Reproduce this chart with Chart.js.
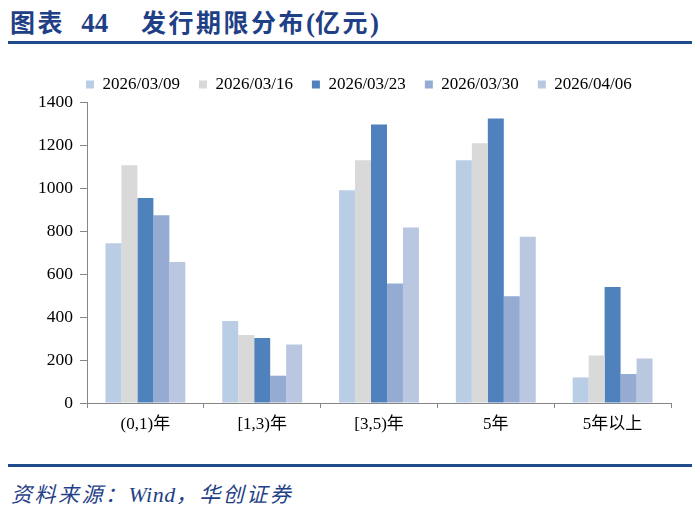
<!DOCTYPE html>
<html>
<head>
<meta charset="utf-8">
<script src="https://cdn.jsdelivr.net/npm/chart.js@4/dist/chart.umd.min.js"></script>
<style>
  html, body { margin: 0; padding: 0; background: #fff; }
  body { width: 700px; height: 508px; position: relative; overflow: hidden; }
  #title { position: absolute; left: 10px; top: 4px; font-family: "Noto Sans CJK SC", sans-serif; font-weight: 700; font-size: 25px; line-height: 34px; color: #1f3f86; letter-spacing: 2.5px; white-space: nowrap; }
  #title .num { font-family: "Liberation Serif", serif; font-weight: 700; font-size: 27px; letter-spacing: 0; }
  #rule1 { position: absolute; left: 8px; top: 41px; width: 684px; height: 3px; background: #1f4a8c; }
  #rule2 { position: absolute; left: 8px; top: 464px; width: 684px; height: 3px; background: #1f4a8c; }
  #source { position: absolute; left: 11px; top: 480px; font-family: "Noto Sans CJK SC", sans-serif; font-style: italic; font-size: 21px; line-height: 26px; color: #1f3f86; letter-spacing: 2.5px; white-space: nowrap; }
  #source .w { font-family: "Liberation Serif", serif; font-style: italic; font-size: 22px; letter-spacing: 0.5px; }
  #wrap { position: absolute; left: 0; top: 55px; width: 700px; height: 390px; }
</style>
</head>
<body>
<div id="title">图表&nbsp;&nbsp;<span class="num">44</span>&nbsp;&nbsp;&nbsp;&nbsp;发行期限分布<span class="num">(</span>亿元<span class="num">)</span></div>
<div id="rule1"></div>
<div id="wrap"><canvas id="c"></canvas></div>
<div id="rule2"></div>
<div id="source">资料来源：<span class="w">Wind</span>，华创证券</div>
<script>
const categories = ["(0,1)年", "[1,3)年", "[3,5)年", "5年", "5年以上"];
const seriesNames = ["2026/03/09", "2026/03/16", "2026/03/23", "2026/03/30", "2026/04/06"];
const s0309 = [743, 381, 990, 1129, 119];
const s0316 = [1106, 316, 1129, 1208, 221];
const s0323 = [954, 302, 1295, 1323, 539];
const s0330 = [873, 127, 556, 497, 135];
const s0406 = [656, 272, 816, 773, 207];
const yTicks = [0, 200, 400, 600, 800, 1000, 1200, 1400];

const colors = ["#b9cde5", "#d9d9d9", "#4f81bd", "#95abd1", "#b9c7e1"];
const values = [s0309, s0316, s0323, s0330, s0406];

const legendFit = {
  id: "legendFit",
  beforeLayout(chart) {
    const lg = chart.legend;
    if (lg && !lg._patched) {
      const f = lg.fit;
      lg.fit = function () { f.call(this); this.height = 47; };
      lg._patched = true;
    }
  },
  afterLayout(chart) {
    const lg = chart.legend;
    if (lg) { lg.left += 31; lg.right += 31; lg.top += 2; lg.bottom += 2; }
  }
};

const ctx = document.getElementById("c");
new Chart(ctx, {
  type: "bar",
  data: {
    labels: categories,
    datasets: seriesNames.map((n, i) => ({
      label: n,
      data: values[i],
      backgroundColor: colors[i],
      borderWidth: 0,
      categoryPercentage: 0.684,
      barPercentage: 1.0
    }))
  },
  plugins: [legendFit],
  options: {
    responsive: true,
    maintainAspectRatio: false,
    animation: false,
    layout: { padding: { left: 36, right: 29, top: 0, bottom: 12 } },
    plugins: {
      legend: {
        position: "top",
        align: "start",
        labels: {
          boxWidth: 8,
          boxHeight: 8,
          padding: 19,
          color: "#000",
          font: { family: "Liberation Serif", size: 17 }
        }
      },
      tooltip: { enabled: false }
    },
    scales: {
      x: {
        afterFit: (axis) => { axis.height = 30; },
        grid: { display: true, drawOnChartArea: false, drawTicks: true, tickLength: 5, color: "#868686", offset: true },
        border: { display: true, color: "#868686", width: 1 },
        ticks: { color: "#000", font: { family: "Liberation Serif, Noto Sans CJK SC", size: 17 }, padding: 6 }
      },
      y: {
        min: 0, max: 1400,
        afterBuildTicks: (axis) => { axis.ticks = yTicks.map(v => ({ value: v })); },
        afterFit: (axis) => { axis.width = 51; },
        grid: { display: true, drawOnChartArea: false, drawTicks: true, tickLength: 7, color: "#868686" },
        border: { display: true, color: "#868686", width: 1 },
        ticks: { color: "#000", font: { family: "Liberation Serif", size: 17.5 }, padding: 7, callback: (v) => String(v) }
      }
    }
  }
});
</script>
</body>
</html>
